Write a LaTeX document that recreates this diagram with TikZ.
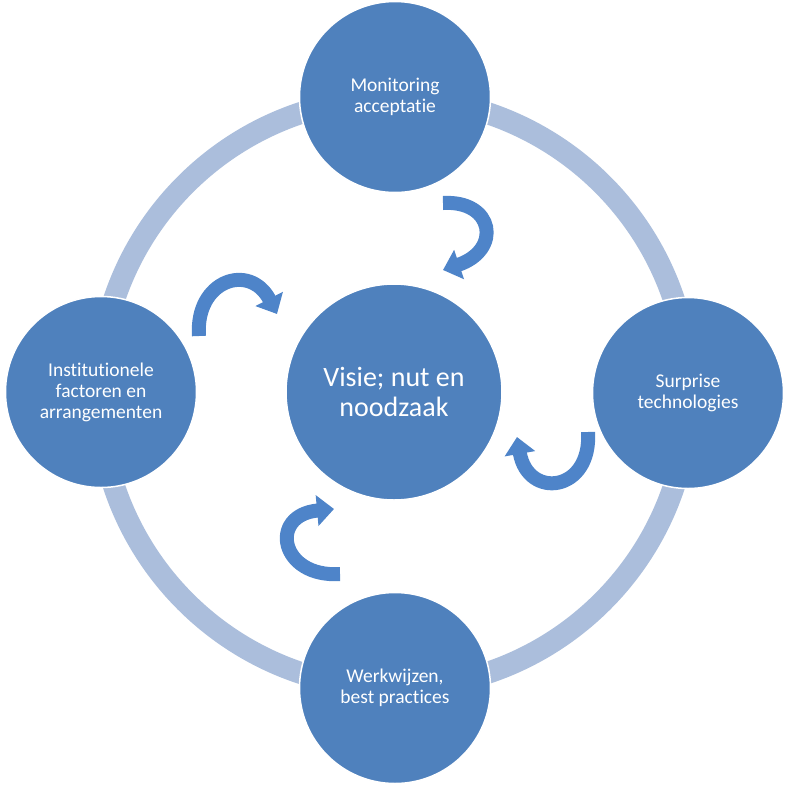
\documentclass[tikz,border=0pt]{standalone}
\usepackage{fontspec}
\setmainfont{Carlito}[Ligatures=NoCommon]
\usetikzlibrary{arrows.meta}
\definecolor{circblue}{HTML}{4F81BD}
\definecolor{ringblue}{HTML}{ABBEDC}
\definecolor{arrowblue}{HTML}{4E84C9}
\begin{document}
\begin{tikzpicture}[x=1pt,y=-1pt,
  sat/.style={circle, fill=circblue, draw=white, line width=1.5pt, minimum size=191pt, inner sep=0pt, text=white, align=center, font=\fontsize{19.5}{21}\selectfont},
  hub/.style={circle, fill=circblue, draw=white, line width=1.5pt, minimum size=216pt, inner sep=0pt, text=white, align=center, font=\fontsize{28}{30}\selectfont},
  ringband/.style={draw=ringblue, line width=22pt},
  curvarrow/.style={draw=arrowblue, line width=14pt, line cap=butt, -{Triangle[length=17pt,width=30pt]}}
]
\useasboundingbox (0,0) rectangle (787,788);
\coordinate (c) at (394,393);
\draw[ringband] (c) circle[radius=295pt];

\node[hub] (hub) at (394,392) {Visie; nut en\\noodzaak};
\node[sat] (top) at (395,97) {Monitoring\\acceptatie};
\node[sat] (right) at (688,393) {Surprise\\technologies};
\node[sat] (bottom) at (395,688) {Werkwijzen,\\best practices};
\node[sat] (left) at (101,392) {Institutionele\\factoren en\\arrangementen};

\draw[curvarrow] (443,203) .. controls (494,200) and (502,250) .. (443,270);
\draw[curvarrow] (199,336) .. controls (195,280) and (250,262) .. (277,314);
\draw[curvarrow] (588,432) .. controls (592,492) and (528,500) .. (517,437);
\draw[curvarrow] (340,574) .. controls (280,578) and (268,515) .. (334,509);
\end{tikzpicture}
\end{document}
